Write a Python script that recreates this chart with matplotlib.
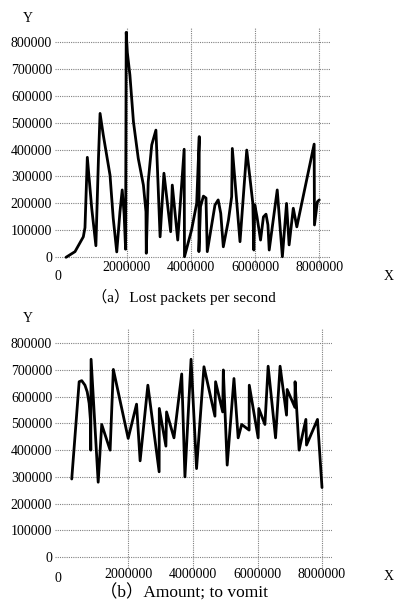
import matplotlib
matplotlib.use("Agg")
import matplotlib.pyplot as plt

plt.rcParams['font.family'] = ['Liberation Serif', 'Noto Sans CJK SC']

# (a) lost packets per second
lost_x = [109000, 389000, 648000, 700000, 773000, 910000, 1040000, 1120000, 1170000,
          1270000, 1480000, 1580000, 1690000, 1790000, 1860000, 1920000, 1965000, 1985000,
          2020000, 2100000, 2210000, 2360000, 2520000, 2600000, 2610000, 2670000, 2780000,
          2910000, 2980000, 3040000, 3160000, 3370000, 3420000, 3590000, 3790000, 3800000,
          4020000, 4180000, 4260000, 4250000, 4300000, 4390000, 4470000, 4510000, 4750000,
          4850000, 4930000, 5010000, 5170000, 5270000, 5290000, 5530000, 5740000, 5930000,
          5960000, 5990000, 6060000, 6170000, 6260000, 6340000, 6400000, 6440000, 6690000,
          6850000, 6980000, 7060000, 7190000, 7300000, 7840000, 7850000, 7940000, 8000000]
lost_y = [0, 21000, 76000, 110000, 371000, 182000, 43000, 367000, 534000,
          454000, 305000, 145000, 20000, 169000, 250000, 160000, 30000, 835000,
          760000, 676000, 503000, 367000, 268000, 169000, 15000, 280000, 417000,
          472000, 262000, 76000, 312000, 95000, 268000, 64000, 401000, 2000,
          101000, 200000, 448000, 21000, 188000, 227000, 220000, 21000, 194000,
          213000, 163000, 39000, 138000, 225000, 404000, 58000, 398000, 200000,
          27000, 195000, 150000, 64000, 150000, 160000, 120000, 27000, 250000,
          2000, 200000, 46000, 182000, 113000, 420000, 120000, 206000, 213000]

# (b) amount to vomit
vomit_x = [240000, 470000, 550000, 650000, 720000, 780000, 820000, 830000, 840000,
           1060000, 1170000, 1430000, 1530000, 1990000, 2250000, 2360000, 2600000,
           2950000, 2955000, 3160000, 3180000, 3410000, 3650000, 3750000, 3940000,
           4110000, 4340000, 4680000, 4700000, 4920000, 4940000, 5060000, 5270000,
           5400000, 5510000, 5740000, 5745000, 6020000, 6040000, 6230000, 6330000,
           6560000, 6700000, 6900000, 6920000, 7160000, 7165000, 7290000, 7500000,
           7520000, 7860000, 8000000]
vomit_y = [292000, 656000, 660000, 643000, 618000, 575000, 512000, 400000, 740000,
           280000, 496000, 400000, 702000, 444000, 572000, 360000, 643000,
           319000, 556000, 415000, 543000, 446000, 685000, 300000, 740000,
           331000, 712000, 527000, 656000, 543000, 700000, 344000, 668000,
           446000, 496000, 475000, 643000, 446000, 556000, 496000, 714000,
           446000, 714000, 531000, 627000, 560000, 656000, 400000, 515000,
           419000, 515000, 260000]

yticks = [0, 100000, 200000, 300000, 400000, 500000, 600000, 700000, 800000]
xticks = [2000000, 4000000, 6000000, 8000000]

W, H = 395, 607
fig = plt.figure(figsize=(W / 100, H / 100), dpi=100)
fig.set_facecolor("white")


def panel(rect, xs, ys, xlim, ylim, xpad, caption, cap_y, cap_size, y_y, x_y, zero_y):
    ax = fig.add_axes(rect)
    ax.plot(xs, ys, color="black", lw=2.0, solid_joinstyle="round", solid_capstyle="round")
    ax.set_xlim(*xlim)
    ax.set_ylim(*ylim)
    ax.set_yticks(yticks)
    ax.set_yticklabels([str(v) for v in yticks])
    ax.set_xticks(xticks)
    ax.set_xticklabels([str(v) for v in xticks])
    for s in ax.spines.values():
        s.set_visible(False)
    ax.tick_params(length=0, labelsize=10)
    ax.tick_params(axis="y", pad=2)
    ax.tick_params(axis="x", pad=xpad)
    ax.grid(True, color="#808080", ls=(0, (1, 1)), lw=0.8)
    fig.text(28 / W, 1 - y_y / H, "Y", fontsize=10, ha="center", va="center")
    fig.text(394 / W, 1 - x_y / H, "X", fontsize=10, ha="right", va="center")
    fig.text(58 / W, 1 - zero_y / H, "0", fontsize=10, ha="center", va="center")
    fig.text(184 / W, 1 - cap_y / H, caption, fontsize=cap_size, ha="center", va="center")
    return ax


panel([55 / W, 1 - 267 / H, 276 / W, 239 / H], lost_x, lost_y,
      (-234000, 8365000), (-36000, 851000), -4,
      "（a）Lost packets per second", 297, 11, 18, 277, 277)
panel([55 / W, 1 - 568 / H, 277 / W, 240 / H], vomit_x, vomit_y,
      (-279000, 8310000), (-41000, 857000), 0,
      "（b）Amount; to vomit", 593, 12.5, 318, 577, 578)

fig.savefig("out.png", dpi=100)
